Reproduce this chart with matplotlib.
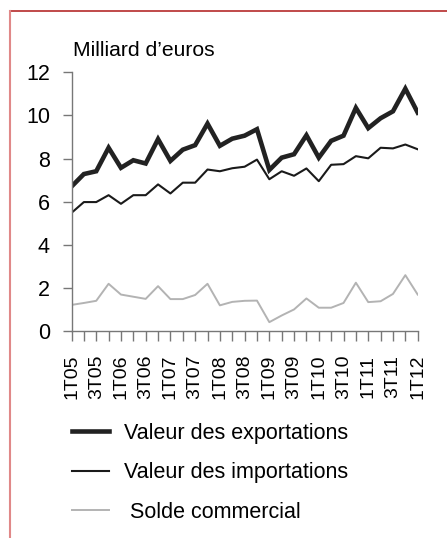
import numpy as np
import matplotlib
matplotlib.use('Agg')
import matplotlib.pyplot as plt
from matplotlib.lines import Line2D

plt.rcParams['font.family'] = ['Liberation Sans', 'DejaVu Sans']

# quarterly data, 1T05 .. 1T12 (milliard d'euros)
quarters = ['1T05', '2T05', '3T05', '4T05', '1T06', '2T06', '3T06', '4T06',
            '1T07', '2T07', '3T07', '4T07', '1T08', '2T08', '3T08', '4T08',
            '1T09', '2T09', '3T09', '4T09', '1T10', '2T10', '3T10', '4T10',
            '1T11', '2T11', '3T11', '4T11', '1T12']
exports = [6.7, 7.28, 7.41, 8.5, 7.57, 7.92, 7.77, 8.9, 7.89, 8.41, 8.62, 9.62,
           8.59, 8.92, 9.06, 9.36, 7.47, 8.04, 8.2, 9.08, 8.04, 8.82, 9.06, 10.35,
           9.41, 9.87, 10.19, 11.24, 10.13]
imports = [5.48, 5.98, 5.98, 6.3, 5.9, 6.3, 6.3, 6.8, 6.38, 6.88, 6.88, 7.49,
           7.41, 7.55, 7.62, 7.95, 7.04, 7.41, 7.2, 7.54, 6.95, 7.71, 7.74, 8.11,
           8.01, 8.5, 8.47, 8.65, 8.43]
solde = [1.21, 1.3, 1.4, 2.19, 1.69, 1.59, 1.49, 2.08, 1.48, 1.48, 1.67, 2.19,
         1.19, 1.35, 1.4, 1.41, 0.41, 0.72, 1.0, 1.51, 1.08, 1.08, 1.3, 2.24,
         1.34, 1.38, 1.72, 2.59, 1.69]

x = np.arange(len(quarters))

fig = plt.figure(figsize=(4.47, 5.38), dpi=100)
ax = fig.add_axes([71.5/447, 1-331/538, (417.7-71.5)/447, (331-72.3)/538])

l1, = ax.plot(x, exports, color='#222222', lw=3.3, solid_joinstyle='miter')
l2, = ax.plot(x, imports, color='#1a1a1a', lw=1.5)
l3, = ax.plot(x, solde, color='#b3b3b3', lw=1.4)

ax.set_xlim(0, len(quarters)-1)
ax.set_ylim(0, 12)
ax.set_yticks(range(0, 13, 2))
ax.set_xticks(x[::2])
ax.set_xticklabels(quarters[::2], rotation=90)
ax.set_xticks(x[1::2], minor=True)

for s in ['top', 'right']:
    ax.spines[s].set_visible(False)
for s in ['left', 'bottom']:
    ax.spines[s].set_color('#777777')
    ax.spines[s].set_linewidth(1.0)
ax.tick_params(axis='y', length=6.5, width=1.0, color='#777777', pad=9,
               labelsize=15.5)
ax.tick_params(axis='x', which='both', length=7, width=1.0, color='#777777',
               pad=10, labelsize=14)

fig.text(73/447, 1-56/538, 'Milliard d\u2019euros', fontsize=15.2, va='baseline')

leg = fig.legend([l1, l2, l3],
                 ['Valeur des exportations', 'Valeur des importations', ' Solde commercial'],
                 loc='upper left', bbox_to_anchor=(71.7/447, 1-423/538),
                 frameon=False, fontsize=15.5, borderpad=0, borderaxespad=0,
                 handlelength=1.75, handletextpad=0.68, labelspacing=0.85)

# red frame on the left and top edges
fig.add_artist(Line2D([10/447, 1], [1-11/538, 1-11/538], color='#b52a2a', lw=1.2))
fig.add_artist(Line2D([10/447, 10/447], [0, 1-11/538], color='#e08888', lw=1.5))

fig.savefig('out.png', dpi=100)
